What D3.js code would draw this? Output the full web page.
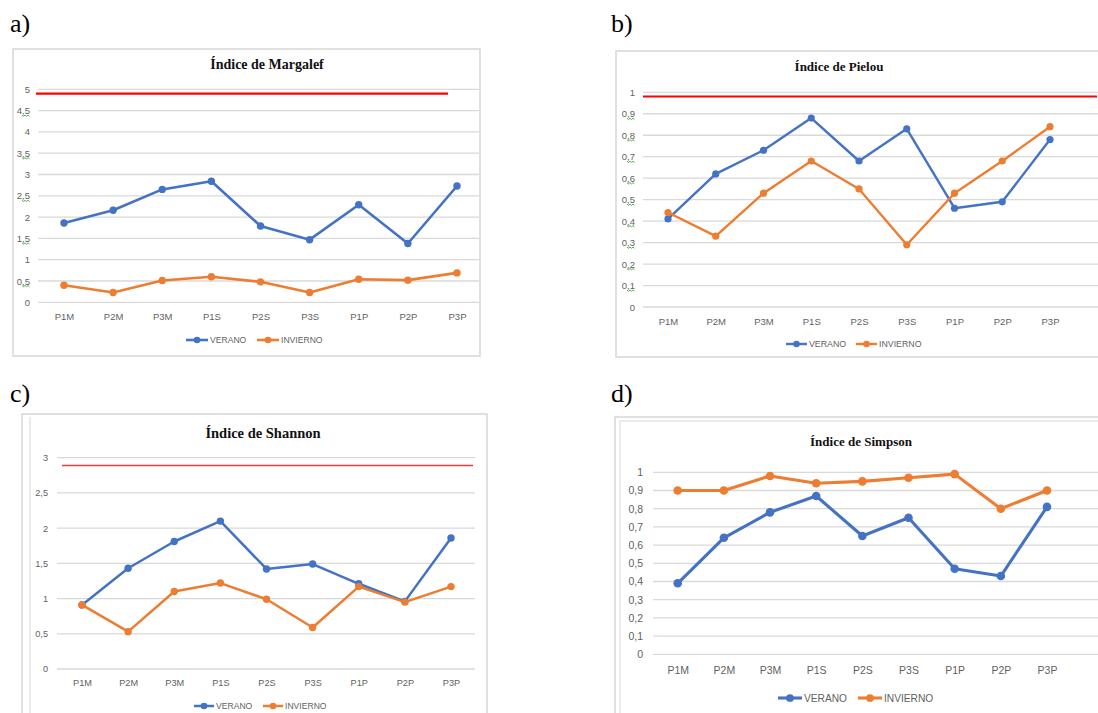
<!DOCTYPE html>
<html>
<head>
<meta charset="utf-8">
<script src="https://cdn.jsdelivr.net/npm/d3@7"></script>
<style>
  html, body { margin: 0; padding: 0; background: #ffffff; }
  svg { display: block; }
</style>
</head>
<body>
<svg id="fig" width="1098" height="713"></svg>
<script>
// Sampling points (shared by all four indices)
const categories = ["P1M", "P2M", "P3M", "P1S", "P2S", "P3S", "P1P", "P2P", "P3P"];
const seriesNames = ["VERANO", "INVIERNO"];

// a) Margalef
const margalefVerano   = [1.86, 2.16, 2.65, 2.84, 1.79, 1.47, 2.29, 1.38, 2.73];
const margalefInvierno = [0.40, 0.23, 0.51, 0.60, 0.48, 0.23, 0.54, 0.52, 0.69];
const margalefRef = 4.9;
const margalefTicks = [0, 0.5, 1, 1.5, 2, 2.5, 3, 3.5, 4, 4.5, 5];

// b) Pielou
const pielouVerano   = [0.41, 0.62, 0.73, 0.88, 0.68, 0.83, 0.46, 0.49, 0.78];
const pielouInvierno = [0.44, 0.33, 0.53, 0.68, 0.55, 0.29, 0.53, 0.68, 0.84];
const pielouRef = 0.98;
const pielouTicks = [0, 0.1, 0.2, 0.3, 0.4, 0.5, 0.6, 0.7, 0.8, 0.9, 1];

// c) Shannon
const shannonVerano   = [0.91, 1.43, 1.81, 2.10, 1.42, 1.49, 1.21, 0.96, 1.86];
const shannonInvierno = [0.91, 0.53, 1.10, 1.22, 0.99, 0.59, 1.17, 0.95, 1.17];
const shannonRef = 2.89;
const shannonTicks = [0, 0.5, 1, 1.5, 2, 2.5, 3];

// d) Simpson
const simpsonVerano   = [0.39, 0.64, 0.78, 0.87, 0.65, 0.75, 0.47, 0.43, 0.81];
const simpsonInvierno = [0.90, 0.90, 0.98, 0.94, 0.95, 0.97, 0.99, 0.80, 0.90];
const simpsonTicks = [0, 0.1, 0.2, 0.3, 0.4, 0.5, 0.6, 0.7, 0.8, 0.9, 1];

const colors = { VERANO: "#4472C4", INVIERNO: "#ED7D31" };
const locale = d3.formatLocale({ decimal: ",", thousands: ".", grouping: [3], currency: ["", "€"] });
const fmt = locale.format(".1~f");
const labelFont = "'Liberation Sans', Arial, sans-serif";
const labelColor = "#5f5f5f";

const svg = d3.select("#fig");

const panels = [
  {
    tag: "a)", tagPos: [10, 32],
    title: "Índice de Margalef", titlePos: [267, 69], titleSize: 14,
    frame: { x: 13, y: 49, w: 467, h: 307 }, innerFrame: null,
    verano: margalefVerano, invierno: margalefInvierno, ref: margalefRef, refColor: "#FF0000", refWidth: 2.2,
    refX: [36, 448], ticks: margalefTicks, yMax: 5,
    xRange: [64, 457], yRange: [302.3, 89.3], gridX: [38, 479], tickRight: 30,
    catY: 319.5, legendY: 340, legendX: [186, 257], legendLine: 22,
    labelSize: 9.5, legendSize: 8.6, lineWidth: 2.6, r: 3.7, squiggle: true
  },
  {
    tag: "b)", tagPos: [611, 32],
    title: "Índice de Pielou", titlePos: [839, 71], titleSize: 13,
    frame: { x: 616, y: 51, w: 600, h: 306 }, innerFrame: null,
    verano: pielouVerano, invierno: pielouInvierno, ref: pielouRef, refColor: "#FF0000", refWidth: 2,
    refX: [643, 1097], ticks: pielouTicks, yMax: 1,
    xRange: [668, 1050], yRange: [307, 92.3], gridX: [643, 1098], tickRight: 635,
    catY: 324.5, legendY: 344, legendX: [786, 856], legendLine: 21,
    labelSize: 9.5, legendSize: 8.8, lineWidth: 2.4, r: 3.6, squiggle: true
  },
  {
    tag: "c)", tagPos: [10, 402],
    title: "Índice de Shannon", titlePos: [263, 438], titleSize: 14.5,
    frame: { x: 22, y: 414, w: 465, h: 400 }, innerLeft: 30,
    verano: shannonVerano, invierno: shannonInvierno, ref: shannonRef, refColor: "#F23A3A", refWidth: 1.5,
    refX: [62, 473], ticks: shannonTicks, yMax: 3,
    xRange: [82, 451], yRange: [669, 457.7], gridX: [57, 475], tickRight: 48,
    catY: 686, legendY: 706, legendX: [194, 263], legendLine: 20,
    labelSize: 9.2, legendSize: 8.6, lineWidth: 2.5, r: 3.7, squiggle: false
  },
  {
    tag: "d)", tagPos: [611, 402],
    title: "Índice de Simpson", titlePos: [861, 446], titleSize: 13,
    frame: { x: 615, y: 417, w: 600, h: 400 }, innerFrame: { x: 620, y: 421, w: 600, h: 400 },
    verano: simpsonVerano, invierno: simpsonInvierno, ref: null,
    ticks: simpsonTicks, yMax: 1,
    xRange: [677.7, 1047], yRange: [654.3, 472.3], gridX: [653, 1098], tickRight: 643,
    catY: 674, legendY: 698, legendX: [778, 858], legendLine: 24,
    labelSize: 10.5, legendSize: 10.2, lineWidth: 3.1, r: 4.3, squiggle: false
  }
];

panels.forEach(p => {
  const g = svg.append("g");

  // panel letter
  svg.append("text")
    .attr("x", p.tagPos[0]).attr("y", p.tagPos[1])
    .attr("font-family", "'Liberation Serif', 'Times New Roman', serif")
    .attr("font-size", 26).attr("fill", "#000")
    .text(p.tag);

  // chart area border
  g.append("rect")
    .attr("x", p.frame.x).attr("y", p.frame.y)
    .attr("width", p.frame.w).attr("height", p.frame.h)
    .attr("fill", "#fff").attr("stroke", "#d9d9d9").attr("stroke-width", 1.6);
  if (p.innerFrame) {
    g.append("rect")
      .attr("x", p.innerFrame.x).attr("y", p.innerFrame.y)
      .attr("width", p.innerFrame.w).attr("height", p.innerFrame.h)
      .attr("fill", "none").attr("stroke", "#e3e3e3").attr("stroke-width", 1.4);
  }
  if (p.innerLeft) {
    g.append("line")
      .attr("x1", p.innerLeft).attr("x2", p.innerLeft)
      .attr("y1", p.frame.y + 3).attr("y2", 713)
      .attr("stroke", "#e3e3e3").attr("stroke-width", 1.4);
  }

  // title
  g.append("text")
    .attr("x", p.titlePos[0]).attr("y", p.titlePos[1])
    .attr("text-anchor", "middle")
    .attr("font-family", "'Liberation Serif', 'Times New Roman', serif")
    .attr("font-weight", "bold").attr("font-size", p.titleSize).attr("fill", "#111")
    .text(p.title);

  const x = d3.scalePoint().domain(categories).range(p.xRange);
  const y = d3.scaleLinear().domain([0, p.yMax]).range(p.yRange);

  // horizontal gridlines
  g.append("g").selectAll("line").data(p.ticks).join("line")
    .attr("x1", p.gridX[0]).attr("x2", p.gridX[1])
    .attr("y1", d => y(d)).attr("y2", d => y(d))
    .attr("stroke", "#d9d9d9").attr("stroke-width", 1.3);

  // y axis labels
  const yAxis = d3.axisLeft(y).tickValues(p.ticks).tickFormat(fmt).tickSize(0).tickPadding(0);
  const ya = g.append("g").attr("transform", `translate(${p.tickRight},0)`).call(yAxis);
  ya.select(".domain").remove();
  ya.selectAll("text")
    .attr("font-family", labelFont)
    .attr("font-size", p.labelSize).attr("fill", labelColor);

  // spell-check style marks under decimal labels
  if (p.squiggle) {
    g.append("g").selectAll("path").data(p.ticks.filter(t => t % 1 !== 0)).join("path")
      .attr("d", t => {
        const yy = y(t) + 4.5, x0 = p.tickRight - 8;
        return `M${x0},${yy} l1.5,1.2 l1.5,-1.2 l1.5,1.2 l1.5,-1.2 l1.5,1.2`;
      })
      .attr("fill", "none").attr("stroke", "#3fa83f").attr("stroke-width", 0.9);
  }

  // x axis labels
  const xAxis = d3.axisBottom(x).tickSize(0).tickPadding(0);
  const xa = g.append("g").attr("transform", `translate(0,${p.catY})`).call(xAxis);
  xa.select(".domain").remove();
  xa.selectAll("text")
    .attr("dy", 0)
    .attr("font-family", labelFont)
    .attr("font-size", p.labelSize).attr("fill", labelColor);

  // reference line
  if (p.ref !== null) {
    g.append("line")
      .attr("x1", p.refX[0]).attr("x2", p.refX[1])
      .attr("y1", y(p.ref)).attr("y2", y(p.ref))
      .attr("stroke", p.refColor).attr("stroke-width", p.refWidth);
  }

  // series
  const series = [
    { name: "VERANO", values: p.verano },
    { name: "INVIERNO", values: p.invierno }
  ];
  const line = d3.line().x((d, i) => x(categories[i])).y(d => y(d));
  series.forEach(s => {
    g.append("path").datum(s.values)
      .attr("d", line).attr("fill", "none")
      .attr("stroke", colors[s.name]).attr("stroke-width", p.lineWidth)
      .attr("stroke-linejoin", "round").attr("stroke-linecap", "round");
    g.append("g").selectAll("circle").data(s.values).join("circle")
      .attr("cx", (d, i) => x(categories[i])).attr("cy", d => y(d))
      .attr("r", p.r).attr("fill", colors[s.name]);
  });

  // legend
  seriesNames.forEach((name, i) => {
    const lx = p.legendX[i];
    const lg = g.append("g");
    lg.append("line")
      .attr("x1", lx).attr("x2", lx + p.legendLine)
      .attr("y1", p.legendY).attr("y2", p.legendY)
      .attr("stroke", colors[name]).attr("stroke-width", p.lineWidth);
    lg.append("circle")
      .attr("cx", lx + p.legendLine / 2).attr("cy", p.legendY)
      .attr("r", p.r * 0.9).attr("fill", colors[name]);
    lg.append("text")
      .attr("x", lx + p.legendLine + 2).attr("y", p.legendY)
      .attr("dominant-baseline", "central")
      .attr("font-family", labelFont)
      .attr("font-size", p.legendSize).attr("fill", labelColor)
      .text(name);
  });
});
</script>
</body>
</html>
